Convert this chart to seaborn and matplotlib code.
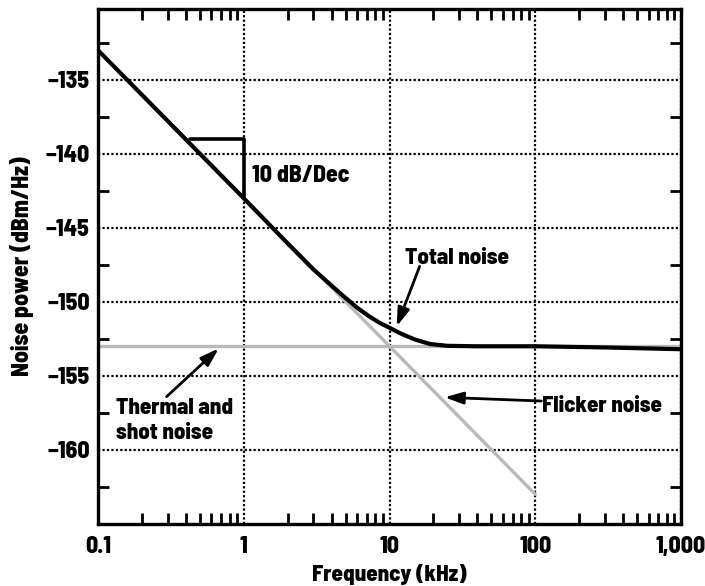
import numpy as np
import pandas as pd
import matplotlib
matplotlib.use("Agg")
import matplotlib.pyplot as plt
import seaborn as sns
from matplotlib.ticker import FixedLocator, NullFormatter

# valores
total_freq = [0.1, 1, 2, 3, 4.5, 6, 7.3, 8.5, 10, 12, 15, 19, 25, 40, 100, 300, 1000]
total_db = [-133, -143, -146.05, -147.8, -149.35, -150.4, -151.0, -151.4, -151.75,
            -152.15, -152.55, -152.85, -152.97, -153.0, -153.0, -153.08, -153.2]
flicker_freq = [0.1, 100]
flicker_db = [-133, -163]
thermal_freq = [0.1, 1000]
thermal_db = [-153, -153]

x_ticks = [0.1, 1, 10, 100, 1000]
x_ticklabels = ["0.1", "1", "10", "100", "1,000"]
y_ticks = [-135, -140, -145, -150, -155, -160]

sns.set_style("ticks")
plt.rcParams["font.family"] = ["Barlow Semi Condensed", "DejaVu Sans"]
plt.rcParams["font.weight"] = 800
for k in ["text.color", "axes.labelcolor", "xtick.color", "ytick.color", "axes.edgecolor"]:
    plt.rcParams[k] = "black"

fig = plt.figure(figsize=(7.05, 5.86), dpi=100)
ax = fig.add_axes([0.139, 0.106, 0.827, 0.879])

gray = "#b9b9b9"
df_th = pd.DataFrame({"f": thermal_freq, "db": thermal_db})
df_fl = pd.DataFrame({"f": flicker_freq, "db": flicker_db})
df_tot = pd.DataFrame({"f": total_freq, "db": total_db})
sns.lineplot(data=df_th, x="f", y="db", ax=ax, color=gray, lw=2.4, zorder=3)
sns.lineplot(data=df_fl, x="f", y="db", ax=ax, color=gray, lw=2.4, zorder=3)
sns.lineplot(data=df_tot, x="f", y="db", ax=ax, color="black", lw=3.0, zorder=4)

ax.set_xscale("log")
ax.set_xlim(0.1, 1000)
ax.set_ylim(-165, -130.2)

ax.set_xticks(x_ticks)
ax.set_xticklabels(x_ticklabels)
ax.set_yticks(y_ticks)
ax.xaxis.set_minor_locator(FixedLocator([m * d for d in [0.1, 1, 10, 100] for m in range(2, 10)]))
ax.xaxis.set_minor_formatter(NullFormatter())
ax.yaxis.set_minor_locator(FixedLocator(np.arange(-162.5, -130, 5)))

ax.grid(True, which="major", color="black", linestyle=(0, (1, 1)), lw=1.6)
ax.tick_params(which="both", direction="in", top=True, right=True, width=2, labelsize=17)
ax.tick_params(which="major", length=0)
ax.tick_params(axis="x", which="major", pad=9)
ax.tick_params(axis="y", which="major", pad=6)
ax.tick_params(which="minor", length=8)
for s in ax.spines.values():
    s.set_linewidth(2.4)
    s.set_zorder(5)

ax.set_xlabel("Frequency (kHz)", fontsize=16.5, fontweight=800, labelpad=4)
ax.set_ylabel("Noise power (dBm/Hz)", fontsize=17, fontweight=800, labelpad=8)

# triángulo de pendiente
ax.plot([0.43, 1, 1], [-139, -139, -143], color="black", lw=2.6, zorder=4)
ax.text(1.135, -141.9, "10 dB/Dec", fontsize=17, fontweight=800, va="baseline", ha="left")

arrow = dict(arrowstyle="-|>,head_length=0.55,head_width=0.18", color="black", lw=2.0,
             mutation_scale=20, shrinkA=0, shrinkB=0)
ax.annotate("", xy=(11.2, -151.65), xytext=(16.1, -147.6), arrowprops=arrow)
ax.text(28.9, -147.45, "Total noise", fontsize=16.5, fontweight=800, ha="center", va="baseline")

ax.annotate("", xy=(23.9, -156.45), xytext=(110, -156.7), arrowprops=arrow)
ax.text(110.9, -157.43, "Flicker noise", fontsize=16.5, fontweight=800, ha="left", va="baseline")

ax.annotate("", xy=(0.673, -153.15), xytext=(0.296, -156.4), arrowprops=arrow)
ax.text(0.132, -157.56, "Thermal and", fontsize=16.5, fontweight=800, ha="left", va="baseline")
ax.text(0.132, -159.25, "shot noise", fontsize=16.5, fontweight=800, ha="left", va="baseline")

fig.savefig("out.png", dpi=100)
